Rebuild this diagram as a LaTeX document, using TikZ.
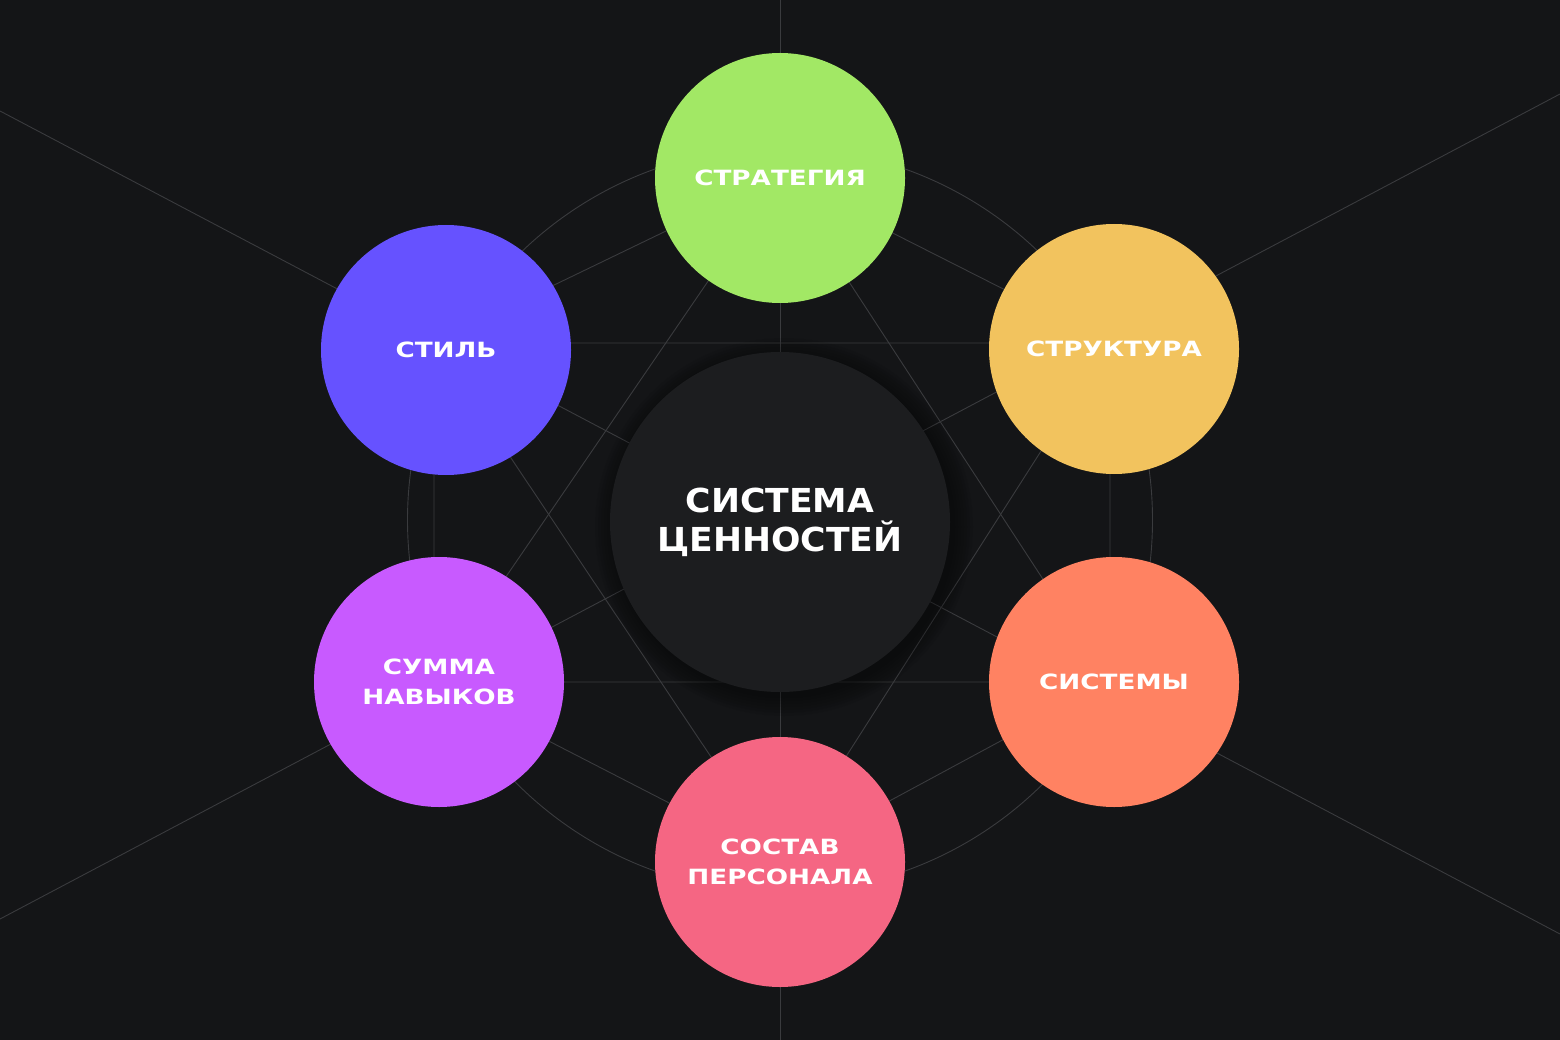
\documentclass[tikz,border=0pt]{standalone}
\usepackage{fontspec}
\newfontfamily\wf[FakeStretch=1.25]{DejaVu Sans}
\newfontfamily\wfc[FakeStretch=1.05]{DejaVu Sans}
\definecolor{bg}{HTML}{141517}
\definecolor{gridline}{HTML}{3A3B3E}
\definecolor{core}{HTML}{1C1D1F}
\definecolor{cgreen}{HTML}{A2E865}
\definecolor{cyellow}{HTML}{F2C35E}
\definecolor{corange}{HTML}{FF8262}
\definecolor{cpink}{HTML}{F56683}
\definecolor{cpurple}{HTML}{C85AFF}
\definecolor{cblue}{HTML}{6652FF}
\tikzset{
  guide/.style={draw=gridline, line width=0.9pt},
  petal/.style={circle, minimum size=250pt, inner sep=0pt, text=white, align=center,
    font=\wf\bfseries\fontsize{21}{30}\selectfont},
  corenode/.style={circle, minimum size=340pt, inner sep=0pt, fill=core, text=white, align=center,
    font=\wfc\bfseries\fontsize{33}{39}\selectfont},
}
\begin{document}
\begin{tikzpicture}[x=1pt,y=-1pt]
\fill[bg] (0,0) rectangle (1560,1040);
\useasboundingbox (0,0) rectangle (1560,1040);
% guide points
\coordinate (h1) at (780,176);
\coordinate (h2) at (1110,343);
\coordinate (h3) at (1110,682);
\coordinate (h4) at (780,860);
\coordinate (h5) at (434,682);
\coordinate (h6) at (434,343);
\coordinate (a1) at (0,111);
\coordinate (a2) at (1560,934);
\coordinate (b1) at (0,919);
\coordinate (b2) at (1560,94);
\coordinate (v1) at (780,0);
\coordinate (v2) at (780,1040);
\coordinate (ctr) at (780,520);
% guide lines
\draw[guide] (a1) -- (a2);
\draw[guide] (b1) -- (b2);
\draw[guide] (v1) -- (v2);
\draw[guide] (ctr) circle[radius=372.5];
\draw[guide] (h1) -- (h2) -- (h3) -- (h4) -- (h5) -- (h6) -- cycle;
\draw[guide] (h1) -- (h3) -- (h5) -- cycle;
\draw[guide] (h2) -- (h4) -- (h6) -- cycle;
% shadow of the core
\foreach \r in {189,186,...,171}{
  \fill[black, fill opacity=0.06] (784,527) circle[radius=\r];
}
\node[corenode] (core) at (780,522) {СИСТЕМА\\ЦЕННОСТЕЙ};
% petals
\node[petal, fill=cgreen]  (strat)  at (780,178)  {СТРАТЕГИЯ};
\node[petal, fill=cyellow] (struct) at (1114,349) {СТРУКТУРА};
\node[petal, fill=corange] (sys)    at (1114,682) {СИСТЕМЫ};
\node[petal, fill=cpink]   (staff)  at (780,862)  {СОСТАВ\\ПЕРСОНАЛА};
\node[petal, fill=cpurple] (skills) at (439,682)  {СУММА\\НАВЫКОВ};
\node[petal, fill=cblue]   (style)  at (446,350)  {СТИЛЬ};
\end{tikzpicture}
\end{document}
